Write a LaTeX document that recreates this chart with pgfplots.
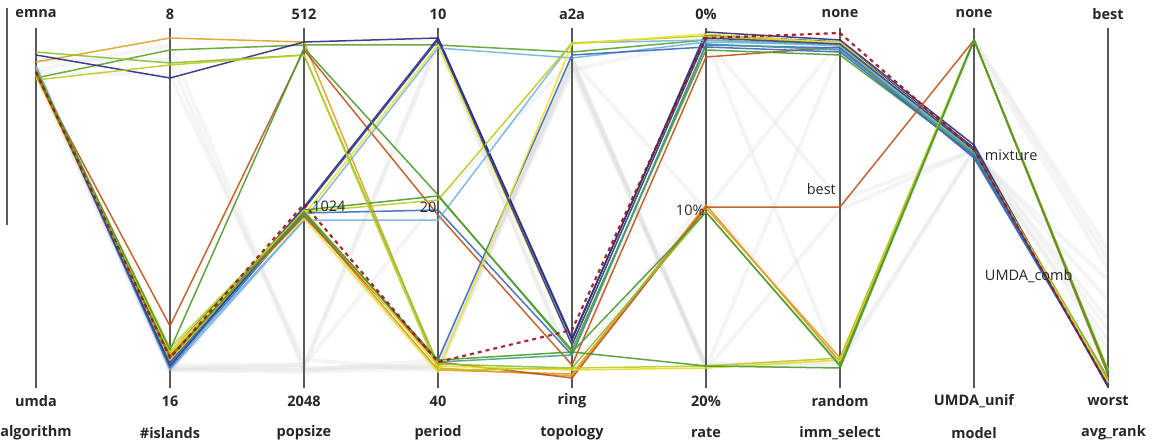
\documentclass[border=0pt]{standalone}
\usepackage{pgfplots}
\pgfplotsset{compat=1.18}
\usepackage{fontspec}
\setmainfont{Open Sans}
\definecolor{cnavy}{HTML}{2A2C80}
\definecolor{cblue}{HTML}{3A68C0}
\definecolor{clblue}{HTML}{74B4E0}
\definecolor{cteal}{HTML}{40A088}
\definecolor{cgreen}{HTML}{4E9A2E}
\definecolor{clime}{HTML}{8CC030}
\definecolor{cyg}{HTML}{BCCB22}
\definecolor{cyellow}{HTML}{ECE224}
\definecolor{corange}{HTML}{E2A024}
\definecolor{cbrown}{HTML}{C0541C}
\definecolor{cdred}{HTML}{A01418}
\definecolor{caxis}{HTML}{5A5A5A}
\tikzset{lab/.style={font=\fontsize{14.5}{16}\selectfont\bfseries, text=black!85, inner sep=0pt, anchor=center},
         mlab/.style={font=\fontsize{14.5}{16}\selectfont, text=black!85, inner sep=0pt}}
\pgfplotsset{grey/.style={color=gray!30, line width=4pt, opacity=0.25}}
\begin{document}
\begin{tikzpicture}
\begin{axis}[
  scale only axis, width=1153pt, height=444pt,
  xmin=-0.268657, xmax=8.335821, ymin=0, ymax=444, y dir=reverse,
  axis line style={draw=none}, ticks=none, clip=false,
  every axis plot/.append style={line width=1.5pt, opacity=0.9, line join=round},
]
% faint background lines
\addplot[grey] coordinates {(0,65) (1,370) (2,372) (3,368) (4,60) (5,365) (6,360) (7,150) (8,330)};
\addplot[grey] coordinates {(0,60) (1,60) (2,370) (3,360) (4,70) (5,40) (6,200) (7,150) (8,300)};
\addplot[grey] coordinates {(0,75) (1,365) (2,365) (3,200) (4,60) (5,368) (6,50) (7,155) (8,280)};
\addplot[grey] coordinates {(0,70) (1,45) (2,368) (3,45) (4,365) (5,200) (6,365) (7,40) (8,260)};
\addplot[grey] coordinates {(0,68) (1,370) (2,370) (3,365) (4,65) (5,370) (6,210) (7,150) (8,320)};
\addplot[grey] coordinates {(0,72) (1,75) (2,360) (3,370) (4,70) (5,365) (6,365) (7,150) (8,350)};
\addplot[grey] coordinates {(0,66) (1,368) (2,365) (3,40) (4,370) (5,40) (6,368) (7,40) (8,250)};
\addplot[grey] coordinates {(0,74) (1,372) (2,220) (3,372) (4,60) (5,210) (6,40) (7,155) (8,340)};
\addplot[grey] coordinates {(0,70) (1,368) (2,368) (3,366) (4,62) (5,366) (6,362) (7,45) (8,270)};
% axes
\pgfplotsinvokeforeach{0,...,8}{
  \draw[caxis, line width=1.1pt] (axis cs:#1,28) -- (axis cs:#1,388);
}
\draw[caxis, line width=1.1pt] (axis cs:-0.2164,8) -- (axis cs:-0.2164,225);
% coloured lines
\addplot[corange!80!cbrown] coordinates {(0,73) (1,354) (2,214) (3,370) (4,374) (5,205) (6,362) (7,40) (8,370)};
\addplot[corange] coordinates {(0,62) (1,38) (2,42) (3,368) (4,376) (5,208) (6,358) (7,40) (8,372)};
\addplot[cgreen!80!clime] coordinates {(0,78) (1,50) (2,45) (3,45) (4,52) (5,40) (6,45) (7,150) (8,378)};
\addplot[cnavy] coordinates {(0,55) (1,78) (2,42) (3,38) (4,340) (5,32) (6,40) (7,145) (8,385)};
\addplot[cbrown] coordinates {(0,75) (1,326) (2,50) (3,215) (4,365) (5,57) (6,47) (7,155) (8,385)};
\addplot[cnavy] coordinates {(0,68) (1,362) (2,207) (3,38) (4,338) (5,35) (6,42) (7,148) (8,387)};
\addplot[cyellow] coordinates {(0,75) (1,355) (2,215) (3,45) (4,345) (5,38) (6,42) (7,152) (8,383)};
\addplot[clblue] coordinates {(0,66) (1,370) (2,220) (3,48) (4,58) (5,42) (6,45) (7,155) (8,382)};
\addplot[cblue] coordinates {(0,70) (1,368) (2,213) (3,210) (4,355) (5,45) (6,48) (7,158) (8,384)};
\addplot[cgreen] coordinates {(0,73) (1,352) (2,210) (3,196) (4,350) (5,50) (6,55) (7,155) (8,380)};
\addplot[clblue] coordinates {(0,68) (1,366) (2,220) (3,220) (4,43) (5,40) (6,46) (7,152) (8,383)};
\addplot[cyg] coordinates {(0,74) (1,348) (2,212) (3,200) (4,43) (5,36) (6,44) (7,150) (8,380)};
\addplot[cteal] coordinates {(0,72) (1,360) (2,214) (3,362) (4,355) (5,44) (6,50) (7,153) (8,381)};
\addplot[cblue] coordinates {(0,70) (1,364) (2,212) (3,360) (4,55) (5,47) (6,52) (7,156) (8,384)};
\addplot[cyellow] coordinates {(0,76) (1,352) (2,218) (3,372) (4,44) (5,34) (6,43) (7,150) (8,382)};
\addplot[cbrown] coordinates {(0,74) (1,356) (2,216) (3,362) (4,378) (5,207) (6,207) (7,40) (8,375)};
\addplot[cnavy!70!cblue] coordinates {(0,69) (1,366) (2,209) (3,40) (4,345) (5,38) (6,44) (7,150) (8,386)};
\addplot[cyellow!80!cyg] coordinates {(0,69) (1,360) (2,210) (3,366) (4,370) (5,368) (6,360) (7,40) (8,370)};
\addplot[clime] coordinates {(0,52) (1,63) (2,55) (3,364) (4,368) (5,212) (6,365) (7,40) (8,372)};
\addplot[cyg] coordinates {(0,80) (1,65) (2,55) (3,370) (4,368) (5,366) (6,358) (7,40) (8,370)};
\addplot[cgreen] coordinates {(0,70) (1,350) (2,48) (3,195) (4,352) (5,366) (6,368) (7,40) (8,372)};
\addplot[cgreen] coordinates {(0,71) (1,358) (2,212) (3,360) (4,352) (5,212) (6,366) (7,40) (8,372)};
\addplot[cdred, line width=2.2pt, dash pattern=on 4pt off 4pt] coordinates {(0,72) (1,358) (2,204) (3,362) (4,330) (5,38) (6,33) (7,150) (8,386)};
% labels
\node[lab] at (axis cs:0,14) {emna};
\node[lab] at (axis cs:1,14) {8};
\node[lab] at (axis cs:2,14) {512};
\node[lab] at (axis cs:3,14) {10};
\node[lab] at (axis cs:4,14) {a2a};
\node[lab] at (axis cs:5,14) {0\%};
\node[lab] at (axis cs:6,14) {none};
\node[lab] at (axis cs:7,14) {none};
\node[lab] at (axis cs:8,14) {best};
\node[lab] at (axis cs:0,401) {umda};
\node[lab] at (axis cs:1,401) {16};
\node[lab] at (axis cs:2,401) {2048};
\node[lab] at (axis cs:3,401) {40};
\node[lab] at (axis cs:4,401) {ring};
\node[lab] at (axis cs:5,401) {20\%};
\node[lab] at (axis cs:6,401) {random};
\node[lab] at (axis cs:7,401) {UMDA\_unif};
\node[lab] at (axis cs:8,401) {worst};
\node[lab] at (axis cs:0,433) {algorithm};
\node[lab] at (axis cs:1,433) {\#islands};
\node[lab] at (axis cs:2,433) {popsize};
\node[lab] at (axis cs:3,433) {period};
\node[lab] at (axis cs:4,433) {topology};
\node[lab] at (axis cs:5,433) {rate};
\node[lab] at (axis cs:6,433) {imm\_select};
\node[lab] at (axis cs:7,433) {model};
\node[lab] at (axis cs:8.04,433) {avg\_rank};
\node[mlab, anchor=west] at (axis cs:2.06,206) {1024};
\node[mlab, anchor=east] at (axis cs:2.99,207) {20};
\node[mlab, anchor=east] at (axis cs:4.99,210) {10\%};
\node[mlab, anchor=east] at (axis cs:5.97,189) {best};
\node[mlab, anchor=west] at (axis cs:7.08,155) {mixture};
\node[mlab, anchor=west] at (axis cs:7.08,276) {UMDA\_comb};
\end{axis}
\pgfresetboundingbox
\path (0,0) rectangle (1153pt,444pt);
\end{tikzpicture}
\end{document}
